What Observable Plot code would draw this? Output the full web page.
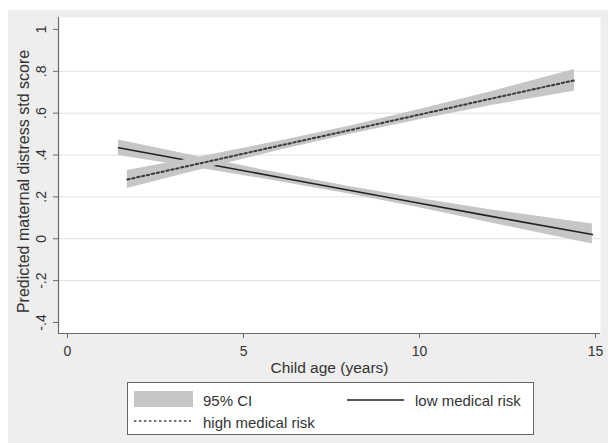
<!DOCTYPE html>
<html>
<head>
<meta charset="utf-8">
<script src="https://cdn.jsdelivr.net/npm/d3@7"></script>
<script src="https://cdn.jsdelivr.net/npm/@observablehq/plot@0.6"></script>
<style>
  html, body { margin: 0; padding: 0; background: #ffffff; }
  body { width: 608px; height: 443px; position: relative; overflow: hidden; font-family: "Liberation Sans", Arial, sans-serif; }
  #panel { position: absolute; left: 8px; top: 10px; width: 600px; height: 433px; background: #eeeeee; }
  #chart { position: absolute; left: 0; top: 0; }
  #legend { position: absolute; left: 119px; top: 372px; width: 407px; height: 53px; background: #ffffff; border: 1px solid #666; box-sizing: border-box; color: #333; font-size: 15px; }
  #legend .sw { position: absolute; }
  #legend .lab { position: absolute; white-space: nowrap; line-height: 1; }
</style>
</head>
<body>
<div id="panel">
  <div id="chart"></div>
  <div id="legend"></div>
</div>
<script>
// ---- data ----
const lowAge  = [1.45, 4, 6, 8, 10, 12, 14.91];
const lowFit  = [0.435, 0.356, 0.294, 0.232, 0.170, 0.108, 0.020];
const lowLo   = [0.398, 0.330, 0.274, 0.214, 0.148, 0.077, -0.025];
const lowHi   = [0.472, 0.382, 0.314, 0.250, 0.192, 0.139, 0.070];

const highAge = [1.70, 4, 6, 8, 10, 12, 14.40];
const highFit = [0.283, 0.369, 0.444, 0.518, 0.593, 0.668, 0.757];
const highLo  = [0.240, 0.339, 0.422, 0.498, 0.569, 0.635, 0.705];
const highHi  = [0.326, 0.399, 0.466, 0.538, 0.617, 0.701, 0.809];

const xTicks = [0, 5, 10, 15];
const xTickLabels = ["0", "5", "10", "15"];
const yTicks = [-0.4, -0.2, 0, 0.2, 0.4, 0.6, 0.8, 1];
const yTickLabels = ["-.4", "-.2", "0", ".2", ".4", ".6", ".8", "1"];
const yGrid = [-0.2, 0, 0.2, 0.4, 0.6, 0.8];

const xTitle = "Child age (years)";
const yTitle = "Predicted maternal distress std score";
const legendItems = ["95% CI", "low medical risk", "high medical risk"];

const xDomain = [-0.256, 15.14];
const yDomain = [-0.4526, 1.057];

const lowData = lowAge.map((a, i) => ({age: a, fit: lowFit[i], lo: lowLo[i], hi: lowHi[i]}));
const highData = highAge.map((a, i) => ({age: a, fit: highFit[i], lo: highLo[i], hi: highHi[i]}));

const font = '"Liberation Sans", Arial, sans-serif';
const axisColor = "#6a6a6a";
const bandColor = "#c6c6c6";
const dots = "2.4,2.6";

const chart = Plot.plot({
  width: 600,
  height: 370,
  marginLeft: 50,
  marginRight: 8,
  marginTop: 7,
  marginBottom: 47,
  style: {background: "transparent", fontFamily: font, fontSize: "14px", color: "#333", overflow: "visible"},
  x: {domain: xDomain},
  y: {domain: yDomain},
  marks: [
    Plot.frame({fill: "white", stroke: null}),
    Plot.gridY(yGrid, {stroke: "#e0e0e0", strokeOpacity: 1, strokeWidth: 1}),
    Plot.areaY(lowData, {x: "age", y1: "lo", y2: "hi", fill: bandColor, fillOpacity: 1}),
    Plot.line(lowData, {x: "age", y: "fit", stroke: "#222", strokeWidth: 1.6}),
    Plot.areaY(highData, {x: "age", y1: "lo", y2: "hi", fill: bandColor, fillOpacity: 1}),
    Plot.line(highData, {x: "age", y: "fit", stroke: "#3a3a3a", strokeWidth: 2, strokeDasharray: dots}),
    Plot.ruleX([xDomain[0]], {stroke: axisColor, strokeWidth: 1.2}),
    Plot.ruleY([yDomain[0]], {stroke: axisColor, strokeWidth: 1.2}),
    Plot.axisX({ticks: xTicks, tickFormat: (d) => xTickLabels[xTicks.indexOf(d)], tickSize: 5, tickPadding: 8, stroke: axisColor, label: null, fontSize: 14}),
    Plot.axisY({ticks: yTicks, tickFormat: (d) => yTickLabels[yTicks.findIndex(t => Math.abs(t - d) < 1e-9)], tickSize: 5, tickRotate: -90, tickPadding: 8, stroke: axisColor, label: null, fontSize: 14}),
    Plot.text([xTitle], {frameAnchor: "bottom", text: (d) => d, dy: 35, textAnchor: "middle", lineAnchor: "middle", fontSize: 15.5}),
    Plot.text([yTitle], {frameAnchor: "left", text: (d) => d, rotate: -90, dx: -35, dy: 6, textAnchor: "middle", lineAnchor: "middle", fontSize: 16})
  ]
});
document.getElementById("chart").appendChild(chart);

// ---- legend ----
const lg = document.getElementById("legend");
function add(html) { lg.insertAdjacentHTML("beforeend", html); }
add(`<div class="sw" style="left:6px;top:8px;width:59px;height:16px;background:${bandColor}"></div>`);
add(`<div class="lab" style="left:75px;top:10px">${legendItems[0]}</div>`);
add(`<svg class="sw" style="left:219px;top:12px" width="58" height="10"><line x1="0" x2="57" y1="5" y2="5" stroke="#222" stroke-width="1.6"/></svg>`);
add(`<div class="lab" style="left:287px;top:10px">${legendItems[1]}</div>`);
add(`<svg class="sw" style="left:6px;top:33px" width="58" height="10"><line x1="0" x2="57" y1="5" y2="5" stroke="#444" stroke-width="1.6" stroke-dasharray="${dots}"/></svg>`);
add(`<div class="lab" style="left:75px;top:32px">${legendItems[2]}</div>`);
</script>
</body>
</html>
